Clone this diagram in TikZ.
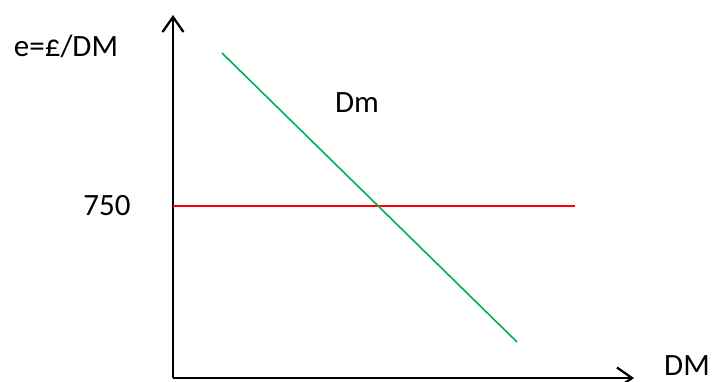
\documentclass[tikz,border=0pt]{standalone}
\usepackage{fontspec}
\setmainfont{Carlito}
\usetikzlibrary{arrows.meta}
\definecolor{dgreen}{RGB}{0,176,80}
\begin{document}
\begin{tikzpicture}[x=1pt,y=-1pt,
  axis/.style={line width=2.3pt,-{Straight Barb[length=15pt,width=21pt,line width=2.3pt]}},
  lbl/.style={font=\fontsize{31}{33}\selectfont,inner sep=0pt}]
\useasboundingbox (0,0) rectangle (713,381);
\coordinate (o) at (173,378);
\coordinate (ytop) at (173,15);
\coordinate (xend) at (634,378);
\draw[axis] (o) -- (ytop);
\draw[axis] (o) -- (xend);
\coordinate (r1) at (173,206);
\coordinate (r2) at (575,206);
\draw[red, line width=1.6pt] (r1) -- (r2);
\coordinate (g1) at (222,53);
\coordinate (g2) at (517,342);
\draw[dgreen, line width=1.6pt] (g1) -- (g2);
\node[lbl] (ylab) at (66,46) {e=£/DM};
\node[lbl] (dm) at (357,103) {Dm};
\node[lbl] (p750) at (107,206) {750};
\node[lbl,anchor=east] (xlab) at (710,366) {DM};
\end{tikzpicture}
\end{document}
